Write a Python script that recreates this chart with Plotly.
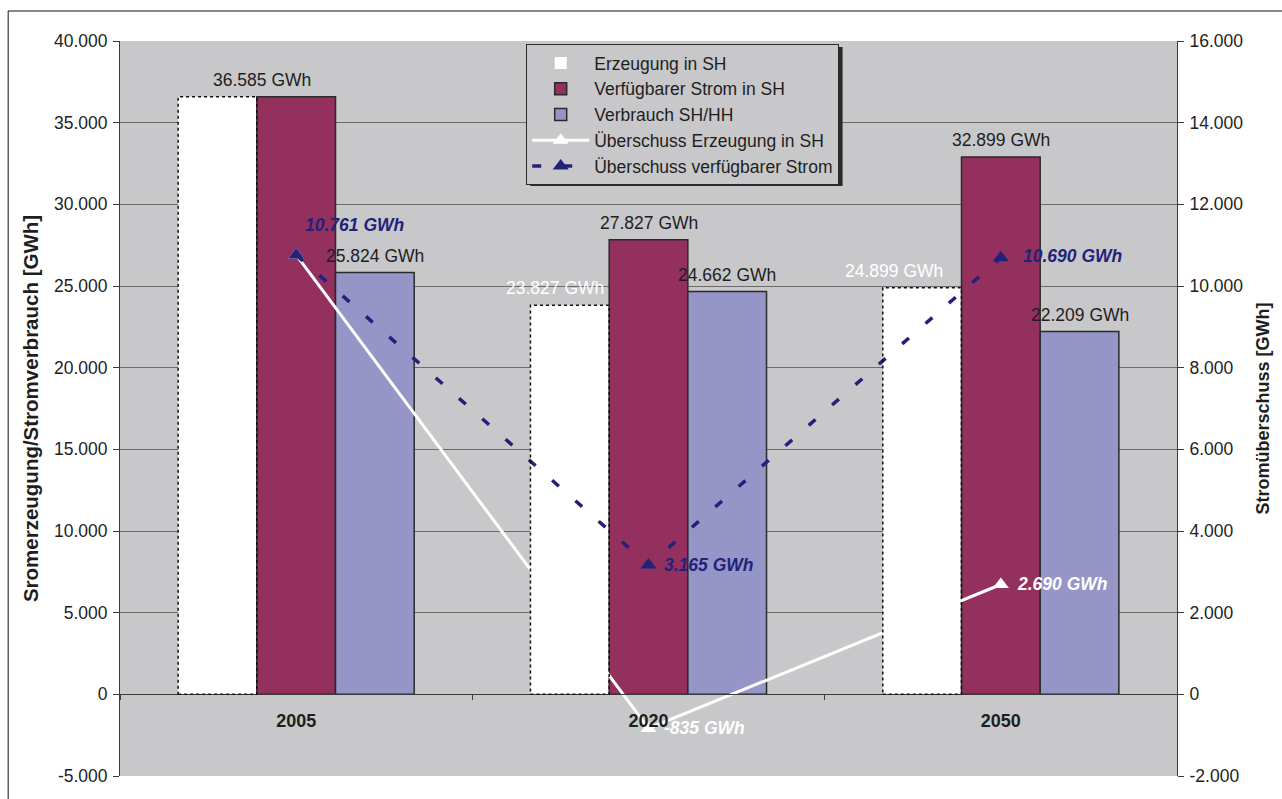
import plotly.graph_objects as go

# --- data -------------------------------------------------------------
years = ["2005", "2020", "2050"]
erzeugung = [36585, 23827, 24899]            # Erzeugung in SH
verfuegbar = [36585, 27827, 32899]           # Verfügbarer Strom in SH
verbrauch = [25824, 24662, 22209]            # Verbrauch SH/HH
ueberschuss_erzeugung = [10761, -835, 2690]  # Überschuss Erzeugung in SH
ueberschuss_verfuegbar = [10761, 3165, 10690]  # Überschuss verfügbarer Strom

left_ticks = [-5000, 0, 5000, 10000, 15000, 20000, 25000, 30000, 35000, 40000]
left_tick_labels = ["-5.000", "0", "5.000", "10.000", "15.000", "20.000",
                    "25.000", "30.000", "35.000", "40.000"]
right_ticks = [-2000, 0, 2000, 4000, 6000, 8000, 10000, 12000, 14000, 16000]
right_tick_labels = ["-2.000", "0", "2.000", "4.000", "6.000", "8.000",
                     "10.000", "12.000", "14.000", "16.000"]

# --- styling ----------------------------------------------------------
FONT = "Liberation Sans, Arial, sans-serif"
TEXT = "#1e1e1e"
MAROON = "#93305E"
LAVENDER = "#9595C8"
NAVY = "#22227A"
PLOT_BG = "#C8C8CA"
GRID = "#6c6c6c"
AXIS = "#3a3a3a"
BAR_GAP = 0.33
BAR_W = (1 - BAR_GAP) / 3
FS = 17.5


def gwh(v):
    return f"{v:,}".replace(",", ".") + " GWh"


fig = go.Figure()

fig.add_bar(name="Erzeugung in SH", x=years, y=erzeugung,
            marker=dict(color="white", line=dict(width=0)))
fig.add_bar(name="Verfügbarer Strom in SH", x=years, y=verfuegbar,
            marker=dict(color=MAROON, line=dict(color="#2a2a2a", width=1.5)))
fig.add_bar(name="Verbrauch SH/HH", x=years, y=verbrauch,
            marker=dict(color=LAVENDER, line=dict(color="#2a2a2a", width=1.5)))

fig.add_scatter(name="Überschuss Erzeugung in SH", x=years, y=ueberschuss_erzeugung,
                yaxis="y2", mode="lines+markers",
                line=dict(color="white", width=3),
                marker=dict(symbol="triangle-up", size=14, color="white"))
fig.add_scatter(name="Überschuss verfügbarer Strom", x=years, y=ueberschuss_verfuegbar,
                yaxis="y2", mode="lines+markers",
                line=dict(color=NAVY, width=3.5, dash="9px,22px"),
                marker=dict(symbol="triangle-up", size=14, color=NAVY))

# dotted outline of the "Erzeugung" bars
shapes = []
for i, v in enumerate(erzeugung):
    shapes.append(dict(type="rect", xref="x", yref="y",
                       x0=i - 1.5 * BAR_W, x1=i - 0.5 * BAR_W, y0=0, y1=v,
                       line=dict(color="#111111", width=1.5, dash="dot"),
                       fillcolor="rgba(0,0,0,0)", layer="above"))

# outer frame of the chart image
shapes.append(dict(type="rect", xref="paper", yref="paper",
                   x0=-0.1058, x1=1.2, y0=-0.2, y1=1.0408,
                   line=dict(color="#111111", width=1), fillcolor="rgba(0,0,0,0)",
                   layer="below"))
# legend drop shadow
shapes.append(dict(type="rect", xref="paper", yref="paper",
                   x0=0.3881, x1=0.6836, y0=0.8027, y1=0.9918,
                   line=dict(width=0), fillcolor="#2a2a2a", layer="above"))

annotations = []
bar_label_font = dict(family=FONT, size=FS, color=TEXT)
# white-bar labels (skipped where identical to the available-power value)
white_shift = [0, -15, -28]
for i, v in enumerate(erzeugung):
    if v == verfuegbar[i]:
        continue
    annotations.append(dict(x=i - BAR_W, y=v, xref="x", yref="y", text=gwh(v),
                            showarrow=False, yanchor="bottom", yshift=5,
                            xshift=white_shift[i],
                            font=dict(family=FONT, size=FS, color="white")))
maroon_shift = [-34, 0, 0]
for i, v in enumerate(verfuegbar):
    annotations.append(dict(x=i, y=v, xref="x", yref="y", text=gwh(v),
                            showarrow=False, yanchor="bottom", yshift=5,
                            xshift=maroon_shift[i], font=bar_label_font))
for i, v in enumerate(verbrauch):
    annotations.append(dict(x=i + BAR_W, y=v, xref="x", yref="y", text=gwh(v),
                            showarrow=False, yanchor="bottom", yshift=5,
                            font=bar_label_font))

# surplus labels
navy_off = [(7, 30), (13, 0), (20, 2)]
for i, v in enumerate(ueberschuss_verfuegbar):
    annotations.append(dict(x=i, y=v, xref="x", yref="y2", text=gwh(v),
                            showarrow=False, xanchor="left", yanchor="middle",
                            xshift=navy_off[i][0], yshift=navy_off[i][1],
                            font=dict(family=FONT, size=FS, color=NAVY,
                                      weight="bold", style="italic")))
white_off = [None, (13, 0), (14, 0)]
for i, v in enumerate(ueberschuss_erzeugung):
    if white_off[i] is None:
        continue
    annotations.append(dict(x=i, y=v, xref="x", yref="y2", text=gwh(v),
                            showarrow=False, xanchor="left", yanchor="middle",
                            xshift=white_off[i][0], yshift=white_off[i][1],
                            font=dict(family=FONT, size=FS, color="white",
                                      weight="bold", style="italic")))

fig.update_layout(
    width=1282, height=799,
    margin=dict(l=120, r=103, t=41, b=23, pad=0),
    paper_bgcolor="white", plot_bgcolor=PLOT_BG,
    barmode="group", bargap=BAR_GAP, bargroupgap=0,
    font=dict(family=FONT, size=FS, color=TEXT),
    showlegend=True,
    legend=dict(x=0.3843, y=0.9959, xanchor="left", yanchor="top",
                bgcolor=PLOT_BG, bordercolor="#2a2a2a", borderwidth=1,
                font=dict(family=FONT, size=FS, color=TEXT),
                itemwidth=57, tracegroupgap=0, traceorder="normal"),
    xaxis=dict(type="category", anchor="free", position=1 / 9,
               range=[-0.5, 2.5], showline=True, linecolor=AXIS, linewidth=1,
               ticks="outside", tickson="boundaries", ticklen=5, tickcolor=AXIS,
               showgrid=False, zeroline=False,
               tickfont=dict(family=FONT, size=18, color=TEXT, weight="bold"),
               ticklabelstandoff=10),
    yaxis=dict(range=[-5000, 40000], tickvals=left_ticks, ticktext=left_tick_labels,
               showgrid=True, gridcolor=GRID, gridwidth=1, zeroline=False,
               showline=True, linecolor=AXIS, linewidth=1,
               ticks="outside", ticklen=6, tickcolor=AXIS,
               tickfont=dict(family=FONT, size=FS, color=TEXT),
               ticklabelstandoff=2,
               title=dict(text="Sromerzeugung/Stromverbrauch [GWh]", standoff=9,
                          font=dict(family=FONT, size=20.5, color=TEXT, weight="bold"))),
    yaxis2=dict(range=[-2000, 16000], tickvals=right_ticks, ticktext=right_tick_labels,
                overlaying="y", side="right", showgrid=False, zeroline=False,
                showline=True, linecolor=AXIS, linewidth=1,
                ticks="outside", ticklen=6, tickcolor=AXIS,
                tickfont=dict(family=FONT, size=FS, color=TEXT),
                ticklabelstandoff=2,
                title=dict(text="Stromüberschuss [GWh]", standoff=14,
                           font=dict(family=FONT, size=18, color=TEXT, weight="bold"))),
    shapes=shapes,
    annotations=annotations,
)

fig.write_html("out.html")
